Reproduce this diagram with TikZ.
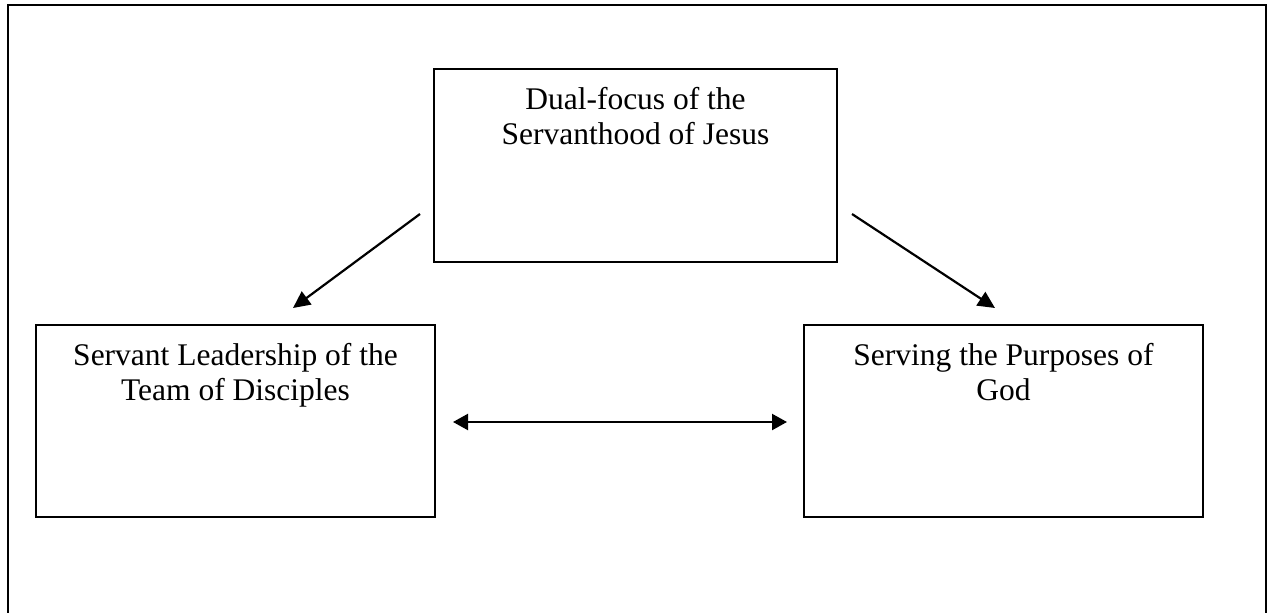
\documentclass[tikz,border=0pt]{standalone}
\usepackage{fontspec}
\setmainfont{Liberation Serif}
\usetikzlibrary{
	arrows.meta,
}

\begin{document}
\begin{tikzpicture}[x=1pt,y=-1pt]
		\tikzset{box/.style={draw=black,line width=2pt,inner sep=0pt,minimum width=#1},
			boxtext/.style={anchor=north,align=center,inner sep=0pt,font=\fontsize{31.5}{35.5}\selectfont},
			link/.style={black,line width=2.2pt,-{Triangle[length=17pt,width=16pt]}}}
		\useasboundingbox (0,0) rectangle (1269,613);
		% frame
		\draw [black,line width=2.5pt] (8,613) -- (8,5) -- (1266,5) -- (1266,613);
		% boxes
		\node [box=403pt,minimum height=193pt] (jesus) at (635.5,165.5) {};
		\node [box=399pt,minimum height=192pt] (team) at (235.5,421) {};
		\node [box=399pt,minimum height=192pt] (god) at (1003.5,421) {};
		\node [boxtext] (jesustext) at ([yshift=-19pt]jesus.north) {Dual-focus of the\\Servanthood of Jesus};
		\node [boxtext] (teamtext) at ([yshift=-19pt]team.north) {Servant Leadership of the\\Team of Disciples};
		\node [boxtext] (godtext) at ([yshift=-19pt]god.north) {Serving the Purposes of\\God};
		% arrows
		\coordinate (tl) at (420,214);
		\coordinate (tlend) at (293,308);
		\coordinate (tr) at (852,214);
		\coordinate (trend) at (995,308);
		\coordinate (ml) at (453,422);
		\coordinate (mr) at (787,422);
		\draw [link] (tl) -- (tlend);
		\draw [link] (tr) -- (trend);
		\draw [link,{Triangle[length=15pt,width=16pt]}-{Triangle[length=15pt,width=16pt]}] (ml) -- (mr);
\end{tikzpicture}
\end{document}
